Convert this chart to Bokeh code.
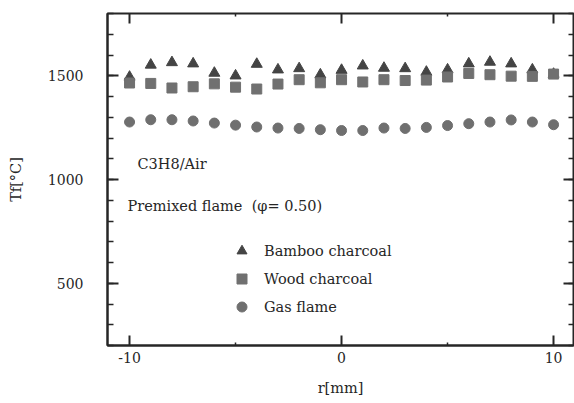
from bokeh.plotting import figure
from bokeh.models import (ColumnDataSource, Range1d, FixedTicker, LinearAxis,
                          Legend, LegendItem, Label)
from bokeh.embed import file_html
from bokeh.resources import INLINE

# Radial position r [mm]
r_mm = [-10, -9, -8, -7, -6, -5, -4, -3, -2, -1, 0,
        1, 2, 3, 4, 5, 6, 7, 8, 9, 10]

# Flame temperature Tf [deg C]
bamboo_charcoal = [1494, 1552, 1564, 1558, 1513, 1500, 1556, 1529, 1535, 1505, 1527,
                   1548, 1537, 1535, 1518, 1529, 1558, 1566, 1558, 1529, 1508]
wood_charcoal = [1465, 1463, 1441, 1447, 1461, 1445, 1436, 1460, 1481, 1466, 1481,
                 1470, 1481, 1477, 1479, 1494, 1511, 1505, 1498, 1497, 1508]
gas_flame = [1277, 1288, 1288, 1282, 1272, 1262, 1253, 1248, 1246, 1240, 1236,
             1236, 1248, 1246, 1251, 1260, 1269, 1277, 1287, 1277, 1264]

series_names = ["Bamboo charcoal", "Wood charcoal", "Gas flame"]

x_major = [-10, 0, 10]
x_major_labels = ["-10", "0", "10"]
x_minor = [-5, 5]
y_major = [500, 1000, 1500]
y_minor = list(range(200, 1801, 100))

FONT = "DejaVu Serif"
INK = "#262626"

src = ColumnDataSource(dict(r=r_mm, bamboo=bamboo_charcoal,
                            wood=wood_charcoal, gas=gas_flame))

p = figure(width=574, height=403, output_backend="svg", toolbar_location=None,
           x_range=Range1d(-11.04, 10.94), y_range=Range1d(200, 1800),
           min_border_left=107, min_border_right=1,
           min_border_top=13, min_border_bottom=58)
p.grid.visible = False
p.outline_line_color = INK
p.outline_line_width = 2
p.background_fill_color = "white"
p.border_fill_color = "white"

xt = FixedTicker(ticks=x_major, minor_ticks=x_minor)
yt = FixedTicker(ticks=y_major, minor_ticks=y_minor)

xa = p.xaxis[0]
xa.ticker = xt
xa.major_label_overrides = dict(zip(x_major, x_major_labels))
xa.axis_label = "r[mm]"
ya = p.yaxis[0]
ya.ticker = yt
ya.axis_label = "Tf[\u00b0C]"

for ax in (xa, ya):
    ax.axis_line_color = INK
    ax.axis_line_width = 2
    ax.major_tick_line_color = INK
    ax.major_tick_line_width = 2
    ax.minor_tick_line_color = INK
    ax.minor_tick_line_width = 1.5
    ax.major_tick_out = 0
    ax.minor_tick_out = 0
    ax.major_label_text_font = FONT
    ax.major_label_text_font_size = "14px"
    ax.major_label_text_color = INK
    ax.axis_label_text_font = FONT
    ax.axis_label_text_font_size = "14.5px"
    ax.axis_label_text_font_style = "normal"
    ax.axis_label_text_color = INK

xa.major_tick_in = 10
xa.minor_tick_in = 3
xa.major_label_standoff = 6
xa.axis_label_standoff = 14

ya.major_tick_in = 11
ya.minor_tick_in = 6
ya.major_label_standoff = 24
ya.axis_label_standoff = 21

# Mirrored tick marks on the top and right edges of the frame (no labels)
for loc, tk in (("right", yt), ("above", xt)):
    ax2 = LinearAxis(ticker=tk, major_label_text_font_size="0px",
                     major_label_text_alpha=0, major_label_text_color=None,
                     major_label_standoff=0, axis_line_color=None,
                     major_tick_in=10, major_tick_out=0,
                     minor_tick_in=5 if loc == "right" else 3, minor_tick_out=0,
                     major_tick_line_color=INK, major_tick_line_width=2,
                     minor_tick_line_color=INK, minor_tick_line_width=1.5)
    p.add_layout(ax2, loc)

r1 = p.scatter("r", "bamboo", source=src, marker="triangle", size=11,
               fill_color="#444444", line_color="#444444")
r2 = p.scatter("r", "wood", source=src, marker="square", size=10,
               fill_color="#707070", line_color="#707070")
r3 = p.scatter("r", "gas", source=src, marker="circle", size=10,
               fill_color="#6f6f6f", line_color="#6f6f6f")

legend = Legend(items=[LegendItem(label=series_names[0], renderers=[r1]),
                       LegendItem(label=series_names[1], renderers=[r2]),
                       LegendItem(label=series_names[2], renderers=[r3])],
                location=(122, 26), padding=0, margin=0,
                border_line_color=None, background_fill_alpha=0,
                glyph_width=25, glyph_height=25, label_height=25,
                spacing=3, label_standoff=10,
                label_text_font=FONT, label_text_font_size="14.5px",
                label_text_color=INK)
p.add_layout(legend)

for txt, sx, sy in (("C3H8/Air", 30, 182),
                    ("Premixed flame \u00a0(\u03c6= 0.50)", 20, 140)):
    p.add_layout(Label(x=sx, y=sy, x_units="screen", y_units="screen",
                       text=txt, text_font=FONT, text_font_size="14.5px",
                       text_color=INK, text_baseline="middle"))

open("out.html", "w").write(file_html(p, INLINE))
